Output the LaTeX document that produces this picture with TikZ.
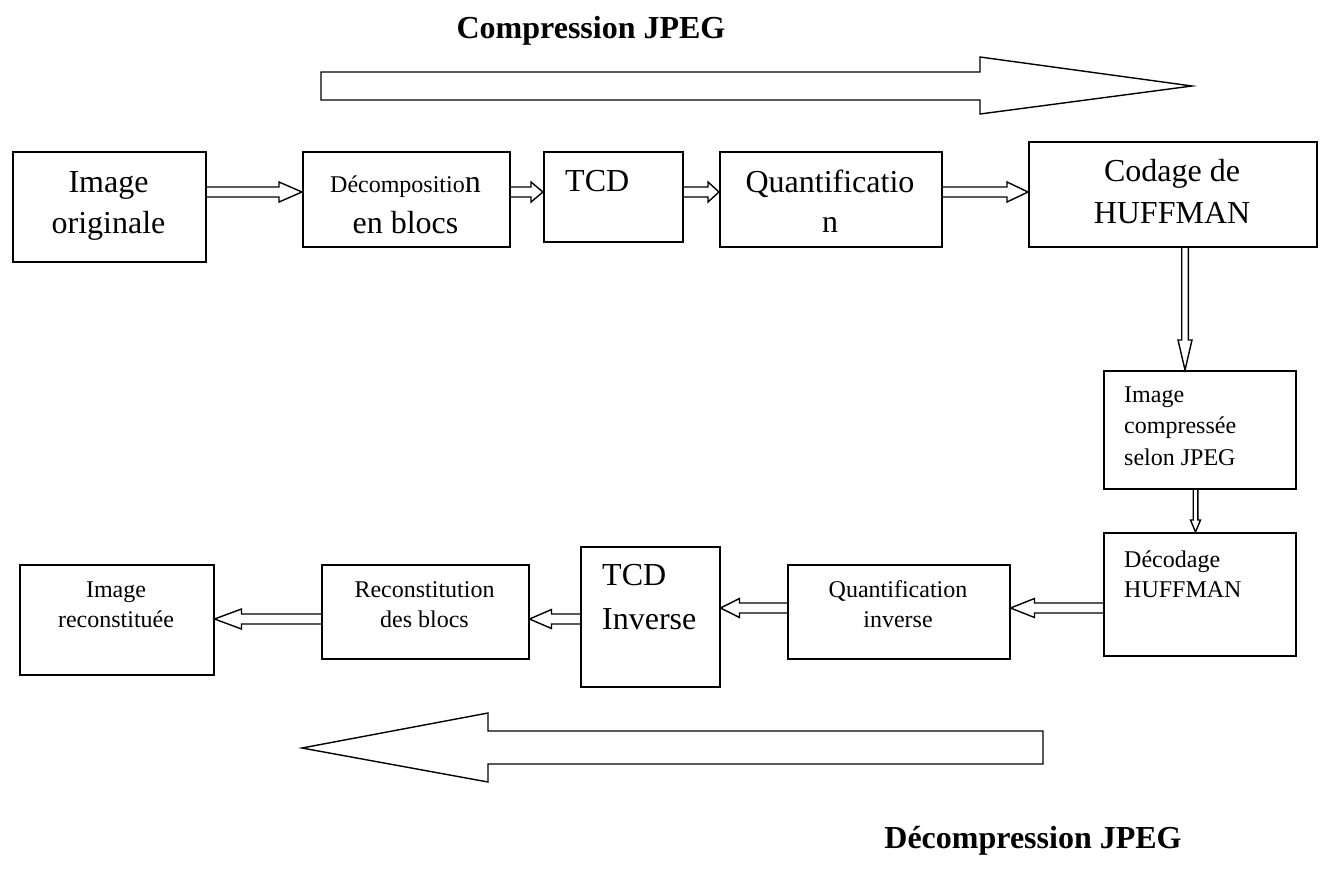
\documentclass[tikz,border=0pt]{standalone}
\usepackage{fontspec}
\setmainfont{Liberation Serif}
\usetikzlibrary{calc}

\tikzset{
  box/.style={draw, line width=1.5pt, anchor=north west, inner sep=0pt},
  big/.style={inner sep=0pt, font=\fontsize{32}{38}\selectfont},
  small/.style={inner sep=0pt, font=\fontsize{24}{29}\selectfont},
  title/.style={inner sep=0pt, anchor=base, font=\fontsize{32}{38}\selectfont\bfseries},
  % hollow double-line connector with an open head
  hs/.store in=\hollowshaft, hw/.store in=\hollowwidth, hl/.store in=\hollowlen,
  hs=5pt, hw=10pt, hl=22pt,
  hollow/.style={line width=1.4pt, line join=miter, to path={
    let \p1=(\tikztostart), \p2=(\tikztotarget),
        \n1={veclen(\x2-\x1,\y2-\y1)},
        \n2={(\x2-\x1)/\n1}, \n3={(\y2-\y1)/\n1}
    in
    ({\x1-(\n3)*\hollowshaft},{\y1+(\n2)*\hollowshaft})
    -- ({\x2-(\n2)*\hollowlen-(\n3)*\hollowshaft},{\y2-(\n3)*\hollowlen+(\n2)*\hollowshaft})
    -- ({\x2-(\n2)*\hollowlen-(\n3)*\hollowwidth},{\y2-(\n3)*\hollowlen+(\n2)*\hollowwidth})
    -- (\x2,\y2)
    -- ({\x2-(\n2)*\hollowlen+(\n3)*\hollowwidth},{\y2-(\n3)*\hollowlen-(\n2)*\hollowwidth})
    -- ({\x2-(\n2)*\hollowlen+(\n3)*\hollowshaft},{\y2-(\n3)*\hollowlen-(\n2)*\hollowshaft})
    -- ({\x1+(\n3)*\hollowshaft},{\y1-(\n2)*\hollowshaft})
  }},
  blockarrow/.style={draw, line width=1.4pt, line join=miter, fill=white}
}

\begin{document}
\begin{tikzpicture}[x=1pt, y=-1pt]
  \fill[white] (0,0) rectangle (1323,871);
  \useasboundingbox (0,0) rectangle (1323,871);

  % titles
  \node[title] (tcomp) at (591,38) {Compression JPEG};
  \node[title] (tdecomp) at (1033,848) {Décompression JPEG};

  % direction arrows
  \draw[blockarrow] (321,72) -- (980,72) -- (980,57) -- (1192,86) -- (980,114)
    -- (980,100) -- (321,100) -- cycle;
  \draw[blockarrow] (1043,731) -- (488,731) -- (488,713) -- (302,748) -- (488,782)
    -- (488,764) -- (1043,764) -- cycle;

  % compression chain
  \node[box, minimum width=193pt, minimum height=110pt] (orig) at (12,151) {};
  \node[big, anchor=base] (origA) at (108.5,192) {Image};
  \node[big, anchor=base] (origB) at (108.5,233) {originale};

  \node[box, minimum width=207pt, minimum height=95pt] (decomp) at (302,151) {};
  \node[big, anchor=base] (decompA) at (405.5,192) {{\fontsize{24}{29}\selectfont Décompositio}n};
  \node[big, anchor=base] (decompB) at (405.5,233) {en blocs};

  \node[box, minimum width=139pt, minimum height=90pt] (tcd) at (543,151) {};
  \node[big, anchor=base west] (tcdA) at (565,191) {TCD};

  \node[box, minimum width=222pt, minimum height=95pt] (quant) at (719,151) {};
  \node[big, anchor=base] (quantA) at (830,192) {Quantificatio};
  \node[big, anchor=base] (quantB) at (830,232) {n};

  \node[box, minimum width=288pt, minimum height=105pt] (huff) at (1028,141) {};
  \node[big, anchor=base] (huffA) at (1172,181) {Codage de};
  \node[big, anchor=base] (huffB) at (1172,223) {HUFFMAN};

  \node[box, minimum width=192pt, minimum height=118pt] (comp) at (1103,370) {};
  \node[small, anchor=base west] (compA) at (1124,402) {Image};
  \node[small, anchor=base west] (compB) at (1124,433) {compressée};
  \node[small, anchor=base west] (compC) at (1124,465) {selon JPEG};

  % decompression chain
  \node[box, minimum width=192pt, minimum height=123pt] (decod) at (1103,532) {};
  \node[small, anchor=base west] (decodA) at (1124,567) {Décodage};
  \node[small, anchor=base west] (decodB) at (1124,597) {HUFFMAN};

  \node[box, minimum width=222pt, minimum height=94pt] (qinv) at (787,564) {};
  \node[small, anchor=base] (qinvA) at (898,597) {Quantification};
  \node[small, anchor=base] (qinvB) at (898,627) {inverse};

  \node[box, minimum width=139pt, minimum height=140pt] (tcdinv) at (580,546) {};
  \node[big, anchor=base west] (tcdinvA) at (602,585) {TCD};
  \node[big, anchor=base west] (tcdinvB) at (602,629) {Inverse};

  \node[box, minimum width=207pt, minimum height=94pt] (recon) at (321,564) {};
  \node[small, anchor=base] (reconA) at (424.5,597) {Reconstitution};
  \node[small, anchor=base] (reconB) at (424.5,627) {des blocs};

  \node[box, minimum width=194pt, minimum height=110pt] (rec) at (19,564) {};
  \node[small, anchor=base] (recA) at (116,597) {Image};
  \node[small, anchor=base] (recB) at (116,627) {reconstituée};

  % connector heights
  \coordinate (r1) at (0,192);
  \coordinate (r2) at (0,608);
  \coordinate (r3) at (0,619);
  \coordinate (v1) at (1185,0);
  \coordinate (v2) at (1195.5,0);

  \draw[hollow, hl=23pt] (orig.east |- r1) to (decomp.west |- r1);
  \draw[hollow, hl=12pt] (decomp.east |- r1) to (tcd.west |- r1);
  \draw[hollow, hl=11pt] (tcd.east |- r1) to (quant.west |- r1);
  \draw[hollow, hl=21pt] (quant.east |- r1) to (huff.west |- r1);

  \draw[hollow, hs=3.3pt, hw=7pt, hl=30pt] (huff.south -| v1) to (comp.north -| v1);
  \draw[hollow, hs=2.3pt, hw=5pt, hl=12pt] (comp.south -| v2) to (decod.north -| v2);

  \draw[hollow, hw=9.5pt, hl=24pt] (decod.west |- r2) to (qinv.east |- r2);
  \draw[hollow, hw=9.5pt, hl=19pt] (qinv.west |- r2) to (tcdinv.east |- r2);
  \draw[hollow, hw=9.5pt, hl=22pt] (tcdinv.west |- r3) to (recon.east |- r3);
  \draw[hollow, hw=10pt, hl=27pt] (recon.west |- r3) to (rec.east |- r3);
\end{tikzpicture}
\end{document}
